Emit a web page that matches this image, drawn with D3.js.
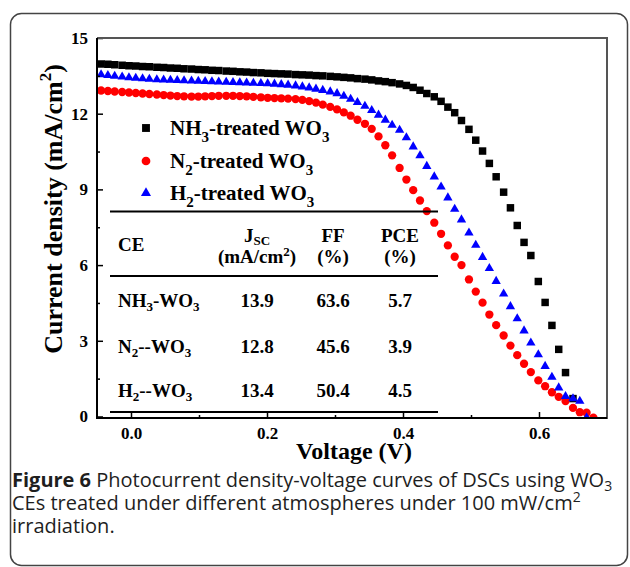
<!DOCTYPE html>
<meta charset="utf-8">
<style>
body { margin: 0; background: #fff; }
.chart text { font-family: "Liberation Serif", "Times New Roman", serif; font-weight: bold; fill: #000; }
.chart .caption { font-family: "Open Sans", sans-serif; font-weight: normal; fill: #1e1e1e; }
</style>
<div class="chart"></div>
<script src="https://cdn.jsdelivr.net/npm/d3@7"></script>
<script>

// J-V data (voltage in V, current density in mA/cm2)
var voltage = [-0.044, -0.034, -0.024, -0.013, -0.003, 0.007, 0.017, 0.027, 0.038, 0.048,
  0.058, 0.068, 0.078, 0.089, 0.099, 0.109, 0.119, 0.129, 0.140, 0.150,
  0.160, 0.170, 0.180, 0.191, 0.201, 0.211, 0.221, 0.231, 0.242, 0.252,
  0.262, 0.272, 0.282, 0.293, 0.303, 0.313, 0.323, 0.333, 0.344, 0.354,
  0.364, 0.374, 0.384, 0.395, 0.405, 0.415, 0.425, 0.435, 0.446, 0.456,
  0.466, 0.476, 0.486, 0.497, 0.507, 0.517, 0.527, 0.537, 0.548, 0.558,
  0.568, 0.578, 0.588, 0.599, 0.609, 0.619, 0.629, 0.639, 0.650, 0.660,
  0.670, 0.680];

var nh3 = [13.97, 13.96, 13.94, 13.92, 13.90, 13.89, 13.87, 13.86, 13.84, 13.83,
  13.81, 13.80, 13.78, 13.77, 13.75, 13.74, 13.72, 13.71, 13.69, 13.68,
  13.66, 13.65, 13.63, 13.62, 13.60, 13.59, 13.58, 13.57, 13.55, 13.54,
  13.53, 13.51, 13.50, 13.48, 13.46, 13.44, 13.42, 13.39, 13.37, 13.34,
  13.30, 13.27, 13.23, 13.18, 13.12, 13.04, 12.93, 12.80, 12.67, 12.49,
  12.26, 12.04, 11.73, 11.38, 10.95, 10.52, 10.03, 9.50, 8.89, 8.27,
  7.57, 6.90, 6.38, 5.35, 4.52, 3.61, 2.66, 1.74, 0.71];

var n2 = [12.92, 12.90, 12.88, 12.86, 12.84, 12.82, 12.80, 12.78, 12.76, 12.74,
  12.72, 12.70, 12.69, 12.68, 12.68, 12.69, 12.70, 12.71, 12.71, 12.71,
  12.70, 12.69, 12.67, 12.65, 12.63, 12.62, 12.61, 12.60, 12.58, 12.55,
  12.50, 12.44, 12.36, 12.27, 12.17, 12.05, 11.92, 11.76, 11.60, 11.40,
  11.10, 10.75, 10.35, 9.85, 9.39, 8.97, 8.56, 8.14, 7.68, 7.24,
  6.78, 6.33, 6.00, 5.43, 4.95, 4.51, 4.04, 3.62, 3.21, 2.81,
  2.43, 2.09, 1.76, 1.43, 1.20, 0.96, 0.78, 0.61, 0.34, 0.17,
  0.15, -0.05];

var h2 = [13.55, 13.52, 13.49, 13.46, 13.43, 13.41, 13.39, 13.37, 13.35, 13.34,
  13.33, 13.32, 13.31, 13.30, 13.29, 13.28, 13.27, 13.26, 13.25, 13.24,
  13.23, 13.22, 13.21, 13.20, 13.19, 13.18, 13.16, 13.14, 13.11, 13.07,
  13.03, 12.98, 12.93, 12.87, 12.80, 12.70, 12.58, 12.45, 12.30, 12.13,
  11.95, 11.75, 11.55, 11.35, 11.05, 10.69, 10.34, 9.92, 9.50, 9.10,
  8.67, 8.22, 7.80, 7.28, 6.79, 6.31, 5.87, 5.36, 4.86, 4.36,
  3.88, 3.40, 2.92, 2.45, 1.99, 1.56, 1.14, 0.80, 0.71, 0.61,
  -0.05];

var seriesLabels = ["NH_{3}-treated WO_{3}", "N_{2}-treated WO_{3}", "H_{2}-treated WO_{3}"];

var xTicks = [0, 0.2, 0.4, 0.6];
var xMinorTicks = [0.1, 0.3, 0.5];
var yTicks = [0, 3, 6, 9, 12, 15];
var yMinorTicks = [1.5, 4.5, 7.5, 10.5, 13.5];

// inset table
var tableHead1 = ["J_{SC}", "FF", "PCE"];
var tableHead2 = ["(mA/cm^{2})", "(%)", "(%)"];
var tableCE = ["NH_{3}-WO_{3}", "N_{2}--WO_{3}", "H_{2}--WO_{3}"];
var tableJsc = ["13.9", "12.8", "13.4"];
var tableFF = ["63.6", "45.6", "50.4"];
var tablePCE = ["5.7", "3.9", "4.5"];

var caption1 = " Photocurrent density-voltage curves of DSCs using WO_{3}";
var caption2 = "CEs treated under different atmospheres under 100 mW/cm^{2}";
var caption3 = "irradiation.";

// text with _{sub} and ^{sup} pieces
function richText(el, str, small, shift) {
  var off = 0;
  str.split(/([_^]\{[^}]*\})/).forEach(function(p) {
    if (!p) return;
    var target = 0, t = p, size = null;
    if (p[0] === "_") { target = shift; size = small; t = p.slice(2, -1); }
    else if (p[0] === "^") { target = -shift; size = small; t = p.slice(2, -1); }
    var ts = el.append("tspan").attr("dy", target - off).text(t);
    if (size) ts.style("font-size", size + "px");
    off = target;
  });
}

var width = 630, height = 567;
var pLeft = 97, pRight = 607, pTop = 38, pBottom = 418;

var svg = d3.select(".chart").append("svg")
    .attr("width", width)
    .attr("height", height);

svg.append("rect")
    .attr("x", 10.5).attr("y", 13.5)
    .attr("width", 617).attr("height", 552)
    .attr("rx", 11)
    .attr("fill", "none")
    .attr("stroke", "#444")
    .attr("stroke-width", 1.5);

var x = d3.scaleLinear().domain([-0.05, 0.70]).range([pLeft, pRight]);
var y = d3.scaleLinear().domain([-0.06, 15]).range([pBottom, pTop]);

svg.append("clipPath").attr("id", "plot")
  .append("rect")
    .attr("x", pLeft).attr("y", pTop)
    .attr("width", pRight - pLeft).attr("height", pBottom - pTop);

var series = [
  {values: nh3, color: "#000", symbol: d3.symbolSquare, size: 56},
  {values: n2, color: "#ff0000", symbol: d3.symbolCircle, size: 54},
  {values: h2, color: "#0000ff", symbol: d3.symbolTriangle, size: 38}
];

var marks = svg.append("g").attr("clip-path", "url(#plot)");

series.forEach(function(s) {
  marks.append("g")
    .selectAll("path")
    .data(s.values)
    .enter()
    .append("path")
      .attr("transform", function(d, i) { return "translate(" + x(voltage[i]) + "," + y(d) + ")"; })
      .attr("d", d3.symbol().type(s.symbol).size(s.size))
      .attr("fill", s.color);
});

// axes, ticks pointing inward
function styleAxis(g, size) {
  g.select(".domain").remove();
  g.selectAll(".tick line").attr("stroke", "#000").attr("stroke-width", 1.5);
  g.selectAll(".tick text").style("font-size", size + "px");
}

svg.append("g")
    .attr("transform", "translate(0," + pBottom + ")")
    .call(d3.axisBottom(x).tickValues(xTicks).tickSize(-6).tickPadding(9).tickFormat(d3.format(".1f")))
    .call(styleAxis, 17);

svg.append("g")
    .attr("transform", "translate(0," + pBottom + ")")
    .call(d3.axisBottom(x).tickValues(xMinorTicks).tickSize(-3).tickFormat(""))
    .call(styleAxis, 17);

svg.append("g")
    .attr("transform", "translate(" + pLeft + ",0)")
    .call(d3.axisLeft(y).tickValues(yTicks).tickSize(-6).tickPadding(9).tickFormat(d3.format("d")))
    .call(styleAxis, 17);

svg.append("g")
    .attr("transform", "translate(" + pLeft + ",0)")
    .call(d3.axisLeft(y).tickValues(yMinorTicks).tickSize(-3).tickFormat(""))
    .call(styleAxis, 17);

// frame
svg.append("path")
    .attr("d", "M" + pLeft + "," + pBottom + "H" + pRight + "V" + pTop + "H" + pLeft)
    .attr("fill", "none").attr("stroke", "#555").attr("stroke-width", 2);
svg.append("path")
    .attr("d", "M" + pLeft + "," + pTop + "V" + pBottom + "H" + pRight)
    .attr("fill", "none").attr("stroke", "#000").attr("stroke-width", 2);

// axis titles
svg.append("text")
    .attr("x", 354).attr("y", 459)
    .attr("text-anchor", "middle")
    .style("font-size", "24px")
    .text("Voltage (V)");

var yTitle = svg.append("text")
    .attr("transform", "translate(62,209) rotate(-90)")
    .attr("text-anchor", "middle")
    .style("font-size", "26px");
richText(yTitle, "Current density (mA/cm^{2})", 17, 11);

// legend
var legend = svg.append("g");
seriesLabels.forEach(function(label, i) {
  var ly = [128, 161, 193][i];
  legend.append("path")
      .attr("transform", "translate(146," + ly + ")")
      .attr("d", d3.symbol().type(series[i].symbol).size(series[i].size + 6))
      .attr("fill", series[i].color);
  var t = legend.append("text")
      .attr("x", 170).attr("y", ly + 7)
      .style("font-size", "21px");
  richText(t, label, 15, 7);
});

// inset table
var table = svg.append("g");
[211.5, 276, 412].forEach(function(ly) {
  table.append("line")
      .attr("x1", 110).attr("x2", 438)
      .attr("y1", ly).attr("y2", ly)
      .attr("stroke", "#000").attr("stroke-width", 2);
});

var colX = [257, 333, 400];

table.append("text")
    .attr("x", 118).attr("y", 250.5)
    .style("font-size", "19px")
    .text("CE");

tableHead1.forEach(function(h, i) {
  var t = table.append("text")
      .attr("x", colX[i]).attr("y", 241.5)
      .attr("text-anchor", "middle")
      .style("font-size", "19px");
  richText(t, h, 13, 3);
});
tableHead2.forEach(function(h, i) {
  var t = table.append("text")
      .attr("x", colX[i]).attr("y", 263)
      .attr("text-anchor", "middle")
      .style("font-size", "19px");
  richText(t, h, 13, 7);
});

var rowY = [307, 352.5, 396.5];
tableCE.forEach(function(ce, r) {
  var t = table.append("text")
      .attr("x", 118).attr("y", rowY[r])
      .style("font-size", "19px");
  richText(t, ce, 13, 4);
  [tableJsc, tableFF, tablePCE].forEach(function(col, c) {
    table.append("text")
        .attr("x", colX[c]).attr("y", rowY[r])
        .attr("text-anchor", "middle")
        .style("font-size", "19px")
        .text(col[r]);
  });
});

// caption
var c1 = svg.append("text").attr("class", "caption")
    .attr("x", 12).attr("y", 487)
    .style("font-size", "20px");
c1.append("tspan").style("font-weight", "bold").text("Figure 6");
richText(c1, caption1, 14, 4);

var c2 = svg.append("text").attr("class", "caption")
    .attr("x", 12).attr("y", 510)
    .style("font-size", "20px");
richText(c2, caption2, 14, 8);

svg.append("text").attr("class", "caption")
    .attr("x", 12).attr("y", 533)
    .style("font-size", "20px")
    .text(caption3);

</script>
